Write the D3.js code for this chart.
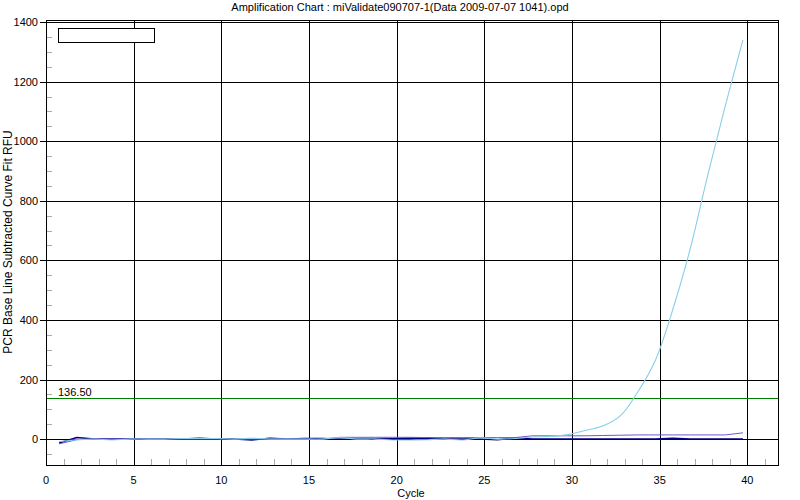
<!DOCTYPE html>
<html><head><meta charset="utf-8">
<script src="https://cdn.jsdelivr.net/npm/d3@7"></script>
<style>body{margin:0;background:#fff}svg{display:block;font-family:Arial,"Liberation Sans",sans-serif}</style>
</head><body>
<svg id="c" width="800" height="500"></svg>
<script>
const title = "Amplification Chart : miValidate090707-1(Data 2009-07-07 1041).opd";
const yLabel = "PCR Base Line Subtracted Curve Fit RFU";
const xLabel = "Cycle";
const xTicks = [0,5,10,15,20,25,30,35,40];
const yTicks = [0,200,400,600,800,1000,1200,1400];
const threshold = 136.50;
const cycles = [0.75,1.75,2.75,3.75,4.75,5.75,6.75,7.75,8.75,9.75,10.75,11.75,12.75,13.75,14.75,15.75,16.75,17.75,18.75,19.75,20.75,21.75,22.75,23.75,24.75,25.75,26.75,27.75,28.75,29.75,30.75,31.75,32.75,33.75,34.75,35.75,36.75,37.75,38.75,39.75];
const skyValues = [-8,-2,0,-3,0,0,0,2,2,2,0,3,0,0,0,0,5,0,0,-3,-3,-2,0,-3,4,0,2,7,9,15,29,44,78,158,264,435,640,888,1120,1340];
const slateValues = [-16,-2,0,0,0,0,0,0,0,0,0,0,0,0,0,0,6,6,6,6,6,5,5,5,5,5,5,11,11,11,11,12,13,14,14,14,14,14,14,21];
const navyValues = [-13,5,0,0,0,0,0,0,3,0,0,-3,3,0,2,2,0,0,0,1,3,4,0,0,0,-2,4,0,0,0,0,0,0,0,0,3,0,0,0,0];

const svg = d3.select("#c");
const L=46, R=778, T=20, B=465;
const x = d3.scaleLinear().domain([0,41.75]).range([L,R]);
const y = d3.scaleLinear().domain([-87,1407]).range([B,T]);
const cx = v => Math.round(x(v))+0.5, cy = v => Math.round(y(v))+0.5;

svg.append("text").attr("x",400).attr("y",11).attr("text-anchor","middle").attr("font-size",11).text(title);

const yMinor = d3.range(-50,1401,50).filter(v=>v%200!==0);
svg.append("g").selectAll("line").data(yMinor).join("line")
  .attr("x1",L).attr("x2",L+6).attr("y1",d=>cy(d)).attr("y2",d=>cy(d)).attr("stroke","#aaa");
const xMinor = d3.range(1,42).filter(v=>v%5!==0);
svg.append("g").selectAll("line").data(xMinor).join("line")
  .attr("x1",d=>cx(d)).attr("x2",d=>cx(d)).attr("y1",B-6).attr("y2",B).attr("stroke","#aaa");

svg.append("g").selectAll("line").data(xTicks.filter(d=>d>0)).join("line")
  .attr("x1",d=>cx(d)).attr("x2",d=>cx(d)).attr("y1",T).attr("y2",B).attr("stroke","#000");
svg.append("g").selectAll("line").data(yTicks).join("line")
  .attr("x1",L).attr("x2",R).attr("y1",d=>cy(d)).attr("y2",d=>cy(d)).attr("stroke","#000");

svg.append("line").attr("x1",L).attr("x2",R).attr("y1",cy(threshold)).attr("y2",cy(threshold)).attr("stroke","#008000");
svg.append("text").attr("x",58).attr("y",cy(threshold)-3).attr("font-size",11).text(threshold.toFixed(2));

const line = vals => d3.line().x((d,i)=>x(cycles[i])).y(d=>y(d))(vals);
const lineS = vals => d3.line().curve(d3.curveCatmullRom.alpha(0.5)).x((d,i)=>x(cycles[i])).y(d=>y(d))(vals);
svg.append("path").attr("d",line(navyValues)).attr("fill","none").attr("stroke","#000080").attr("stroke-width",1.5);
svg.append("path").attr("d",line(slateValues)).attr("fill","none").attr("stroke","#6a5acd").attr("stroke-width",1);
svg.append("path").attr("d",lineS(skyValues)).attr("fill","none").attr("stroke","#87ceeb").attr("stroke-width",1.1);

svg.append("rect").attr("x",L+0.5).attr("y",T+0.5).attr("width",R-L).attr("height",B-T).attr("fill","none").attr("stroke","#000");

svg.append("g").selectAll("line").data(yTicks).join("line")
  .attr("x1",L-6).attr("x2",L).attr("y1",d=>cy(d)).attr("y2",d=>cy(d)).attr("stroke","#000");
svg.append("g").selectAll("text").data(yTicks).join("text")
  .attr("x",L-8).attr("y",d=>y(d)+4).attr("text-anchor","end").attr("font-size",11).text(d=>d);
svg.append("g").selectAll("text").data(xTicks).join("text")
  .attr("x",d=>x(d)).attr("y",484).attr("text-anchor","middle").attr("font-size",11).text(d=>d);

svg.append("text").attr("x",411).attr("y",497).attr("text-anchor","middle").attr("font-size",11).text(xLabel);
svg.append("text").attr("transform","translate(12,242) rotate(-90)").attr("text-anchor","middle").attr("font-size",12).text(yLabel);

svg.append("rect").attr("x",58.5).attr("y",28.5).attr("width",96).attr("height",14).attr("fill","#fff").attr("stroke","#000");
</script>
</body></html>
